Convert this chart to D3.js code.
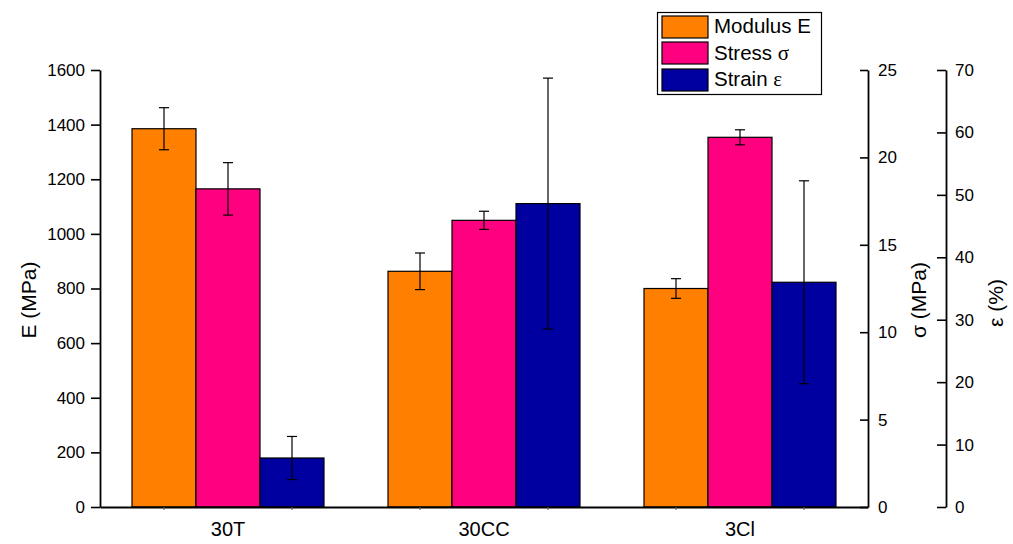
<!DOCTYPE html>
<html><head><meta charset="utf-8">
<script src="https://cdn.jsdelivr.net/npm/d3@7"></script>
<style>body{margin:0;background:#fff}svg{display:block}text{font-family:"Liberation Sans",Arial,sans-serif;fill:#000}</style>
</head><body><svg id="c" width="1013" height="544"></svg>
<script>
const categories = ["30T", "30CC", "3Cl"];
const seriesNames = ["Modulus E", "Stress σ", "Strain ε"];
const seriesColors = ["#FF8000", "#FF0080", "#0000A0"];
const modulusE = [1385, 863, 800];
const modulusErr = [77, 67, 36];
const stressS = [18.2, 16.4, 21.15];
const stressErr = [1.5, 0.52, 0.43];
const strainEps = [7.85, 48.6, 36.0];
const strainErr = [3.45, 20.1, 16.25];
const eTicks = [0, 200, 400, 600, 800, 1000, 1200, 1400, 1600];
const sTicks = [0, 5, 10, 15, 20, 25];
const epsTicks = [0, 10, 20, 30, 40, 50, 60, 70];

const svg = d3.select("#c");
const L = 100, R = 868, T = 70, B = 507;
const x = d3.scaleBand().domain(categories).range([L, R]).padding(0);
const xi = d3.scaleBand().domain([0,1,2]).range([0, 192]);
const yE = d3.scaleLinear().domain([0, 1600]).range([B, T]);
const yS = d3.scaleLinear().domain([0, 25]).range([B, T]);
const yEps = d3.scaleLinear().domain([0, 70]).range([B, T]);
const scales = [yE, yS, yEps];
const vals = [modulusE, stressS, strainEps];
const errs = [modulusErr, stressErr, strainErr];
const off = (x.bandwidth() - 192) / 2;
const fmt = d3.format("d");

// bars
for (let s = 0; s < 3; s++) {
  const g = svg.append("g");
  categories.forEach((c, i) => {
    const bx = x(c) + off + xi(s);
    const y = scales[s];
    g.append("rect").attr("x", bx).attr("y", y(vals[s][i]))
      .attr("width", xi.bandwidth()).attr("height", y(0) - y(vals[s][i]))
      .attr("fill", seriesColors[s]).attr("stroke", "#000").attr("stroke-width", 1.2);
  });
}
// error bars
for (let s = 0; s < 3; s++) {
  const y = scales[s];
  categories.forEach((c, i) => {
    const cx = x(c) + off + xi(s) + xi.bandwidth() / 2;
    const hi = y(vals[s][i] + errs[s][i]), lo = y(vals[s][i] - errs[s][i]);
    const g = svg.append("g").attr("stroke", "#000").attr("stroke-width", 1.2);
    g.append("line").attr("x1", cx).attr("x2", cx).attr("y1", hi).attr("y2", lo);
    g.append("line").attr("x1", cx - 5).attr("x2", cx + 5).attr("y1", hi).attr("y2", hi);
    g.append("line").attr("x1", cx - 5).attr("x2", cx + 5).attr("y1", lo).attr("y2", lo);
  });
}

function styleAxis(g) {
  g.select(".domain").attr("stroke", "#000").attr("stroke-width", 1.8);
  g.selectAll(".tick line").attr("stroke", "#000").attr("stroke-width", 1.6);
  g.selectAll(".tick text").attr("font-size", 17).attr("fill", "#000")
   .attr("font-family", '"Liberation Sans", Arial, sans-serif');
}
function minorTicks(scale, step, max) {
  const out = [];
  for (let v = step; v < max; v += 2 * step) out.push(v);
  return out;
}

// left axis
const gl = svg.append("g").attr("transform", `translate(${L},0)`);
gl.call(d3.axisLeft(yE).tickValues(minorTicks(yE, 100, 1600)).tickSize(5).tickFormat(""));
gl.call(d3.axisLeft(yE).tickValues(eTicks).tickSize(9).tickSizeOuter(0).tickPadding(6).tickFormat(fmt));
styleAxis(gl);

// sigma axis
const gs = svg.append("g").attr("transform", `translate(${R},0)`);
gs.call(d3.axisRight(yS).tickValues(minorTicks(yS, 2.5, 25)).tickSize(-4).tickSizeOuter(0).tickFormat(""));
gs.call(d3.axisRight(yS).tickValues(sTicks).tickSize(-8).tickSizeOuter(0).tickPadding(10).tickFormat(fmt));
styleAxis(gs);

// epsilon axis
const ge = svg.append("g").attr("transform", `translate(946,0)`);
ge.call(d3.axisRight(yEps).tickValues(minorTicks(yEps, 5, 70)).tickSize(-5).tickSizeOuter(0).tickFormat(""));
ge.call(d3.axisRight(yEps).tickValues(epsTicks).tickSize(-9).tickSizeOuter(0).tickPadding(9).tickFormat(fmt));
styleAxis(ge);

// bottom axis
const gb = svg.append("g").attr("transform", `translate(0,${B})`);
gb.call(d3.axisBottom(x).tickSize(0).tickSizeOuter(0).tickPadding(15));
gb.select(".domain").attr("stroke", "#000").attr("stroke-width", 1.8);
gb.selectAll(".tick text").attr("font-size", 20).attr("fill", "#000")
  .attr("font-family", '"Liberation Sans", Arial, sans-serif');
categories.forEach(c => {
  [0, 2].forEach(s => {
    const cx = x(c) + off + xi(s) + xi.bandwidth() / 2;
    svg.append("line").attr("x1", cx).attr("x2", cx).attr("y1", B).attr("y2", B + 3)
      .attr("stroke", "#555").attr("stroke-width", 1);
  });
});

// axis titles
svg.append("text").attr("transform", "translate(36,300) rotate(-90)")
  .attr("text-anchor", "middle").attr("font-size", 21).text("E (MPa)");
svg.append("text").attr("transform", "translate(926,300) rotate(-90)")
  .attr("text-anchor", "middle").attr("font-size", 21).text("σ (MPa)");
svg.append("text").attr("transform", "translate(1003,303) rotate(-90)")
  .attr("text-anchor", "middle").attr("font-size", 21).text("ε (%)");

// legend
const lg = svg.append("g");
lg.append("rect").attr("x", 657.5).attr("y", 12.5).attr("width", 164).attr("height", 82)
  .attr("fill", "#fff").attr("stroke", "#000").attr("stroke-width", 1.2);
const rowY = [16, 42, 69];
const baseY = [33, 59.5, 86];
seriesNames.forEach((n, i) => {
  lg.append("rect").attr("x", 662).attr("y", rowY[i]).attr("width", 46).attr("height", 22)
    .attr("fill", seriesColors[i]).attr("stroke", "#000").attr("stroke-width", 1.2);
  const parts = n.split(" ");
  const t = lg.append("text").attr("x", 714).attr("y", baseY[i]).attr("font-size", 20.5);
  if (i === 0) t.text(n);
  else {
    t.append("tspan").text(parts[0] + " ");
    t.append("tspan").attr("font-family", '"Liberation Serif", "DejaVu Serif", serif')
      .attr("font-size", 21).text(parts[1]);
  }
});
</script></body></html>
